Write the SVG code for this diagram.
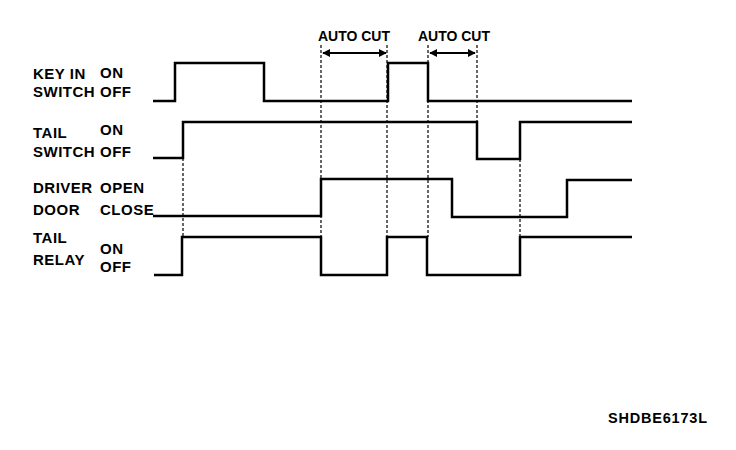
<svg xmlns="http://www.w3.org/2000/svg" width="736" height="450" viewBox="0 0 736 450">
<style>
.t{font-family:"Liberation Sans",Arial,sans-serif;font-weight:bold;font-size:15px;fill:#000;letter-spacing:0.5px}
.w{fill:none;stroke:#000;stroke-width:2.5;stroke-linejoin:miter}
.d{fill:none;stroke:#000;stroke-width:1.2;stroke-dasharray:3 2}
.a{fill:none;stroke:#000;stroke-width:2;marker-start:url(#ah);marker-end:url(#ah)}
</style>
<defs>
<marker id="ah" viewBox="0 0 10 10" refX="9" refY="5" markerWidth="4" markerHeight="4" orient="auto-start-reverse" markerUnits="strokeWidth">
<path d="M0,0 L10,5 L0,10 z" fill="#000"/>
</marker>
</defs>
<rect width="736" height="450" fill="#fff"/>
<g id="key-in-switch">
<text class="t" x="33" y="79">KEY IN</text>
<text class="t" x="33" y="97">SWITCH</text>
<text class="t" x="100" y="78">ON</text>
<text class="t" x="100" y="97">OFF</text>
<polyline class="w" points="153,101 175,101 175,63 264,63 264,101 388,101 388,63 428,63 428,101 632,101"/>
</g>
<g id="tail-switch">
<text class="t" x="33" y="138">TAIL</text>
<text class="t" x="33" y="157">SWITCH</text>
<text class="t" x="100" y="135">ON</text>
<text class="t" x="100" y="157">OFF</text>
<polyline class="w" points="153,158 183,158 183,122 477,122 477,159 520,159 520,122 632,122"/>
</g>
<g id="driver-door">
<text class="t" x="33" y="193">DRIVER</text>
<text class="t" x="33" y="215">DOOR</text>
<text class="t" x="100" y="193">OPEN</text>
<text class="t" x="100" y="215">CLOSE</text>
<polyline class="w" points="153,216 321,216 321,179 452,179 452,217 567,217 567,180 632,180"/>
</g>
<g id="tail-relay">
<text class="t" x="33" y="243">TAIL</text>
<text class="t" x="33" y="265">RELAY</text>
<text class="t" x="100" y="254">ON</text>
<text class="t" x="100" y="272">OFF</text>
<polyline class="w" points="154,275 182,275 182,237 321,237 321,275 387,275 387,237 427,237 427,275 520,275 520,237 632,237"/>
</g>
<g id="auto-cut-1">
<text class="t" x="354" y="41" text-anchor="middle" style="font-size:14px;letter-spacing:0">AUTO CUT</text>
</g>
<g id="auto-cut-2">
<text class="t" x="454" y="41" text-anchor="middle" style="font-size:14px;letter-spacing:0">AUTO CUT</text>
</g>
<g id="connectors">
<line class="d" x1="183" y1="158" x2="183" y2="237"/>
<line class="d" x1="321" y1="45" x2="321" y2="237"/>
<line class="d" x1="387" y1="45" x2="387" y2="237"/>
<line class="d" x1="428" y1="45" x2="428" y2="237"/>
<line class="d" x1="477" y1="45" x2="477" y2="122"/>
<line class="d" x1="520" y1="159" x2="520" y2="237"/>
<line class="a" x1="323" y1="53" x2="386" y2="53"/>
<line class="a" x1="430" y1="53" x2="475" y2="53"/>
</g>
<text class="t" x="608" y="423" style="font-size:14.5px;letter-spacing:0.8px">SHDBE6173L</text>
</svg>
